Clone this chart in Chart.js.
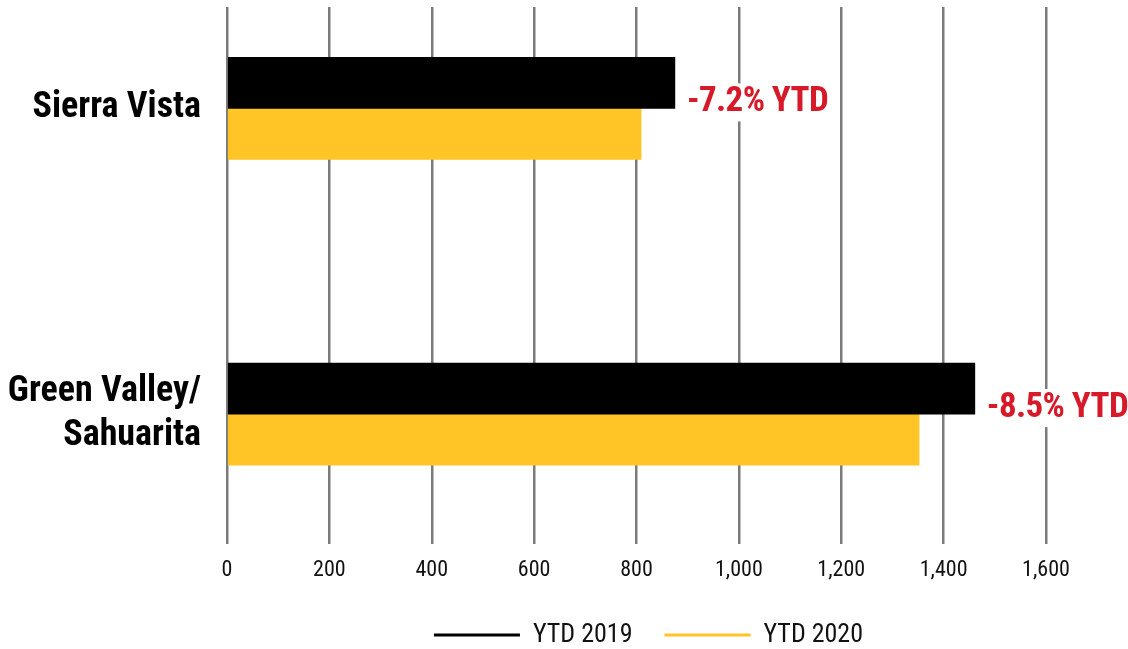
<!DOCTYPE html>
<html>
<head>
<meta charset="utf-8">
<script src="https://cdn.jsdelivr.net/npm/chart.js@4/dist/chart.umd.min.js"></script>
<style>
  html, body { margin: 0; padding: 0; background: #ffffff; }
  #wrap { width: 1128px; height: 649px; position: relative; }
</style>
</head>
<body>
<div id="wrap"><canvas id="c"></canvas></div>
<script>
const categories = [["Sierra Vista"], ["Green Valley/", "Sahuarita"]];
const ytd2019 = [875, 1461];
const ytd2020 = [809, 1352];
const changeLabels = ["-7.2% YTD", "-8.5% YTD"];
const xTicks = [0, 200, 400, 600, 800, 1000, 1200, 1400, 1600];
const seriesNames = ["YTD 2019", "YTD 2020"];

const FONT = "'Roboto Condensed', 'Liberation Sans Narrow', 'Arial Narrow', 'DejaVu Sans Condensed', sans-serif";
const RED = "#d71a2a";

const toPoints = (vals) => vals.map((v, i) => ({ x: v, y: i }));

const changePlugin = {
  id: "changeLabels",
  afterDatasetsDraw(chart) {
    const { ctx } = chart;
    const xs = chart.scales.x, ys = chart.scales.y;
    ctx.save();
    ctx.font = "bold 35px " + FONT;
    try { ctx.letterSpacing = "-0.6px"; } catch (e) {}
    ctx.textBaseline = "middle";
    ctx.textAlign = "left";
    changeLabels.forEach((t, i) => {
      const x = xs.getPixelForValue(Math.max(ytd2019[i], ytd2020[i])) + 12;
      const y = ys.getPixelForValue(i) - 6;
      const w = ctx.measureText(t).width;
      ctx.fillStyle = "#ffffff";
      ctx.fillRect(x - 3, y - 19, w + 6, 38);
      ctx.fillStyle = RED;
      ctx.fillText(t, x, y);
    });
    ctx.restore();
  }
};

const legendShift = {
  id: "legendShift",
  afterLayout(chart) {
    if (chart.legend) { chart.legend.left += 12; chart.legend.right += 12; }
  }
};

new Chart(document.getElementById("c"), {
  type: "bar",
  data: {
    datasets: [
      { label: seriesNames[0], data: toPoints(ytd2019), backgroundColor: "#000000", borderWidth: 0, barThickness: 51 },
      { label: seriesNames[1], data: toPoints(ytd2020), backgroundColor: "#ffc425", borderWidth: 0, barThickness: 51 }
    ]
  },
  options: {
    indexAxis: "y",
    responsive: true,
    maintainAspectRatio: false,
    animation: false,
    layout: { padding: { top: 7, right: 82, left: 0, bottom: -9 } },
    plugins: {
      tooltip: { enabled: false },
      legend: {
        position: "bottom",
        fullSize: false,
        labels: {
          boxWidth: 86,
          boxHeight: 3,
          padding: 32,
          color: "#111111",
          font: { family: FONT, size: 26 }
        }
      }
    },
    scales: {
      x: {
        type: "linear",
        min: 0,
        max: 1600,
        afterBuildTicks: (s) => { s.ticks = xTicks.map(v => ({ value: v })); },
        ticks: {
          padding: 13,
          color: "#111111",
          font: { family: FONT, size: 22 },
          callback: (v) => Number(v).toLocaleString("en-US")
        },
        grid: { color: "#7b7b7c", lineWidth: 2.5, drawTicks: false },
        border: { display: false },
        afterFit: (s) => { s.height = 46; s.paddingLeft = 0; s.paddingRight = 0; }
      },
      y: {
        type: "linear",
        reverse: true,
        offset: false,
        min: -0.3317,
        max: 1.425,
        afterBuildTicks: (s) => { s.ticks = categories.map((c, i) => ({ value: i })); },
        ticks: {
          padding: 26,
          color: "#000000",
          font: { family: FONT, size: 36, weight: "bold", lineHeight: 1.22 },
          callback: (v) => categories[v] || ""
        },
        grid: { display: false, drawTicks: false },
        border: { display: false },
        afterFit: (s) => { s.width = 227; s.paddingTop = 0; s.paddingBottom = 0; }
      }
    }
  },
  plugins: [changePlugin, legendShift]
});
</script>
</body>
</html>
